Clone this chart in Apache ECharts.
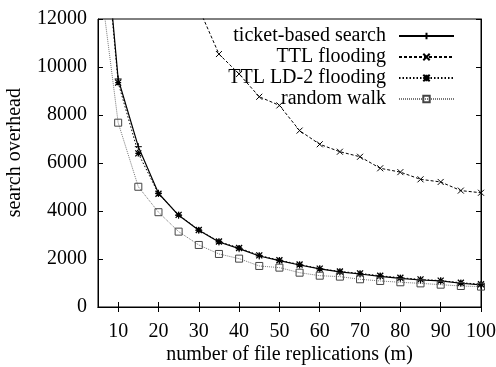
<!DOCTYPE html>
<html><head><meta charset="utf-8">
<script src="https://cdn.jsdelivr.net/npm/echarts@6/dist/echarts.min.js"></script>
<style>html,body{margin:0;padding:0;background:#fff}#c{width:496px;height:367px}</style>
</head><body><div id="c"></div>
<script>
var xs = [5,10,15,20,25,30,35,40,45,50,55,60,65,70,75,80,85,90,95,100];
var ticketBased = [18800,9500,6680,4740,3820,3195,2710,2430,2125,1930,1750,1585,1460,1375,1280,1195,1125,1085,990,920];
var ttlLD2 = [18500,9350,6400,4720,3840,3210,2730,2460,2150,1950,1770,1600,1480,1400,1300,1220,1150,1100,1010,950];
var randomWalk = [14300,7680,5010,3950,3140,2585,2210,2015,1710,1640,1430,1305,1265,1155,1085,1030,985,930,875,850];
var ttlXs = [30,35,40,45,50,55,60,65,70,75,80,85,90,95,100];
var ttlFlooding = [12450,10540,9710,8760,8400,7350,6780,6470,6260,5780,5620,5320,5210,4850,4760];
var xTicks = [10,20,30,40,50,60,70,80,90,100];
var names = ['ticket-based search','TTL flooding','TTL LD-2 flooding','random walk'];
var xName = 'number of file replications (m)';
var yName = 'search overhead';

function pairs(x, y){ return x.map(function(v,i){ return [v, y[i]]; }); }
var FONT = "'Liberation Serif', 'Times New Roman', serif";
var symPlus = 'path://M0,5L10,5M5,0L5,10';
var symX = 'path://M0,0L10,10M0,10L10,0';
var symStar = 'path://M0,0L10,10M0,10L10,0M0,5L10,5M5,0L5,10';
var symSq = 'path://M0,0L10,0L10,10L0,10Z';

var chart = echarts.init(document.getElementById('c'), null, {renderer:'canvas'});
var axisCommon = {
  axisLine:{show:true, lineStyle:{color:'#000', width:1}},
  splitLine:{show:false}
};
function legendAt(name, top){
  return {
    data:[name], orient:'vertical', right:41, top:top, align:'right',
    itemWidth:55, itemHeight:8, itemGap:0, padding:0,
    textStyle:{fontFamily:FONT, fontSize:20, color:'#000', padding:[0,8,0,0]},
    selectedMode:false
  };
}
var option = {
  animation:false,
  backgroundColor:'#fff',
  grid:{left:98, right:15, top:19, bottom:60, show:true, borderColor:'#000', borderWidth:1,
        containLabel:false, outerBoundsMode:'none'},
  legend:[legendAt(names[0],26), legendAt(names[1],47), legendAt(names[2],68), legendAt(names[3],89)],
  graphic:[{
    type:'text', left:5, top:88, rotation:Math.PI/2,
    style:{text:yName, fontFamily:FONT, fontSize:20, fill:'#000'}
  }],
  xAxis:[
    Object.assign({type:'value', min:5, max:100, position:'bottom',
      name:xName, nameLocation:'middle', nameGap:38, nameMoveOverlap:false,
      nameTextStyle:{fontFamily:FONT, fontSize:20, color:'#000'},
      axisTick:{show:true, inside:true, length:5, customValues:xTicks, lineStyle:{color:'#000'}},
      axisLabel:{customValues:xTicks, fontFamily:FONT, fontSize:20, color:'#000', margin:15}
    }, axisCommon),
    Object.assign({type:'value', min:5, max:100, position:'top',
      axisTick:{show:true, inside:true, length:5, customValues:xTicks, lineStyle:{color:'#000'}},
      axisLabel:{show:false}
    }, axisCommon)
  ],
  yAxis:[
    Object.assign({type:'value', min:0, max:12000, interval:2000, position:'left',
      axisTick:{show:true, inside:true, length:5, lineStyle:{color:'#000'}},
      axisLabel:{fontFamily:FONT, fontSize:20, color:'#000', margin:11,
        formatter:function(v){ return String(v); }}
    }, axisCommon),
    Object.assign({type:'value', min:0, max:12000, interval:2000, position:'right',
      axisTick:{show:true, inside:true, length:5, lineStyle:{color:'#000'}},
      axisLabel:{show:false}
    }, axisCommon)
  ],
  series:[
    {name:names[0], type:'line', data:pairs(xs,ticketBased), clip:true,
      symbol:symPlus, symbolSize:7,
      lineStyle:{color:'#000', width:1.2, type:'solid'},
      itemStyle:{color:'rgba(0,0,0,0)', borderColor:'#000', borderWidth:1}},
    {name:names[1], type:'line', data:pairs(ttlXs,ttlFlooding), clip:true,
      symbol:symX, symbolSize:6,
      lineStyle:{color:'#000', width:1, type:[3,2]},
      itemStyle:{color:'rgba(0,0,0,0)', borderColor:'#000', borderWidth:1}},
    {name:names[2], type:'line', data:pairs(xs,ttlLD2), clip:true,
      symbol:symStar, symbolSize:6,
      lineStyle:{color:'#000', width:1, type:[1.5,2]},
      itemStyle:{color:'rgba(0,0,0,0)', borderColor:'#000', borderWidth:1.3}},
    {name:names[3], type:'line', data:pairs(xs,randomWalk), clip:true,
      symbol:symSq, symbolSize:7,
      lineStyle:{color:'#777', width:1, type:[1,1]},
      itemStyle:{color:'rgba(0,0,0,0)', borderColor:'#444', borderWidth:1}}
  ]
};
chart.setOption(option);
</script></body></html>
